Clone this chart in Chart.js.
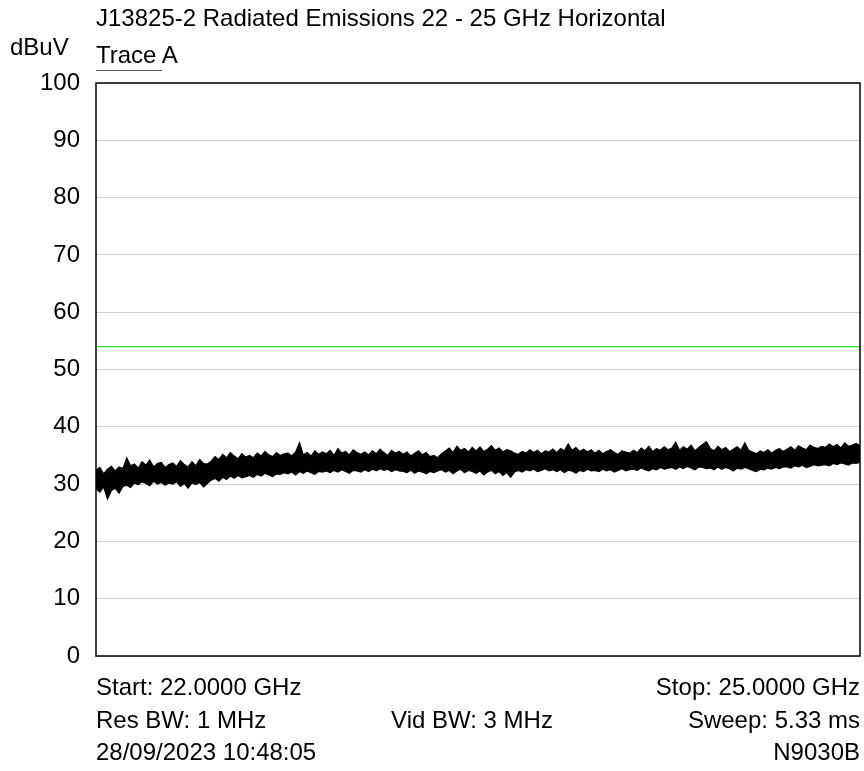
<!DOCTYPE html>
<html>
<head>
<meta charset="utf-8">
<script src="https://cdn.jsdelivr.net/npm/chart.js@4.4.1/dist/chart.umd.min.js"></script>
<style>
  html, body { margin: 0; padding: 0; background: #fff; }
  #wrap { position: relative; width: 864px; height: 771px; }
  canvas { position: absolute; left: 0; top: 0; }
  .t { position: absolute; font-family: "Liberation Sans", Arial, sans-serif; font-size: 24px; color: #000; white-space: nowrap; line-height: 26px; }
  .r { text-align: right; }
  #uline { position: absolute; left: 96px; top: 70px; width: 66px; height: 0; border-top: 1.5px solid #555; }
</style>
</head>
<body>
<div id="wrap">
  <canvas id="c" width="864" height="771"></canvas>
  <div class="t" style="left:96px; top:5px;">J13825-2 Radiated Emissions 22 - 25 GHz Horizontal</div>
  <div class="t" style="left:10px; top:34px;">dBuV</div>
  <div class="t" style="left:96px; top:42px;">Trace A</div>
  <div id="uline"></div>
  <div class="t" style="left:96px; top:674px;">Start: 22.0000 GHz</div>
  <div class="t" style="left:96px; top:707px;">Res BW: 1 MHz</div>
  <div class="t" style="left:96px; top:739px;">28/09/2023 10:48:05</div>
  <div class="t" style="left:372px; top:707px; width:200px; text-align:center;">Vid BW: 3 MHz</div>
  <div class="t r" style="right:4px; top:674px;">Stop: 25.0000 GHz</div>
  <div class="t r" style="right:4px; top:707px;">Sweep: 5.33 ms</div>
  <div class="t r" style="right:4px; top:739px;">N9030B</div>
</div>
<script>
// ---- data ----
const startGHz = 22.0;
const stopGHz = 25.0;
const limitLine = 54;
const yTicks = [0, 10, 20, 30, 40, 50, 60, 70, 80, 90, 100];

// upper envelope of the noise trace (dBuV), left to right
const traceHigh = [
  32.4, 32.9, 31.8, 32.6, 33.1, 32.3, 33.0, 32.7, 34.6, 33.2,
  33.5, 32.8, 33.9, 33.3, 34.2, 33.0, 33.6, 33.8, 32.9, 33.4,
  33.7, 33.1, 34.1, 33.4, 33.0, 33.9, 33.2, 34.3, 33.6, 33.5,
  34.0, 34.8, 34.3, 35.2, 34.6, 35.5, 34.9, 34.4, 35.3, 34.7,
  35.0, 34.6, 35.4, 34.9, 35.7, 35.1, 34.8, 35.5, 35.0, 35.3,
  35.4, 34.9, 35.6, 37.2, 35.1, 35.5, 34.9, 35.8, 35.2, 35.6,
  35.3, 35.9, 35.0, 36.2, 35.4, 35.7, 35.1, 36.0, 35.5, 35.2,
  35.6, 35.1, 35.8, 35.3, 36.1, 35.5, 35.0, 35.9, 35.4, 35.7,
  35.2, 35.6, 34.9, 35.4, 35.8, 35.1, 35.5, 34.8, 35.0, 34.6,
  35.3, 35.8, 36.3, 35.5, 36.6, 35.9, 36.2, 35.6, 36.4, 35.8,
  36.5, 35.7, 36.1, 36.7, 35.9, 36.3, 35.6, 36.0, 35.8, 35.4,
  35.2, 35.7, 35.4, 36.0, 35.5, 35.9, 35.3, 35.8, 35.6, 36.1,
  35.5, 36.2, 35.8, 37.0, 35.9, 36.4, 35.7, 36.1, 35.6, 36.0,
  35.4, 35.9, 35.3, 35.7, 36.0, 35.5, 35.2, 35.8, 35.6, 35.4,
  35.9, 35.5, 36.3, 35.8, 36.6, 35.7, 36.2, 35.9, 36.5, 36.0,
  36.3, 37.3, 35.9, 36.5, 36.1, 36.8, 35.8, 36.4, 36.9, 37.4,
  36.2, 35.8, 36.6, 36.0, 36.4, 35.7, 36.1, 36.5, 35.9, 37.2,
  35.9, 35.6, 35.3, 35.8, 35.5, 36.0, 35.4, 35.9, 36.2, 35.7,
  36.1, 36.5, 35.9, 36.7, 36.3, 36.0, 36.8, 36.4, 36.2, 36.6,
  36.4, 37.0, 36.5, 36.9, 36.3, 37.2, 36.6, 36.8, 37.1, 36.7
];
// lower envelope of the noise trace (dBuV), left to right
const traceLow = [
  29.2, 28.6, 29.5, 27.4, 28.9, 29.3, 28.4, 29.6, 29.8, 29.4,
  30.2, 29.9, 30.4, 30.1, 29.7, 30.5, 30.0, 30.3, 29.8, 30.2,
  30.0, 30.4, 29.6, 30.1, 29.3, 30.2, 29.9, 30.3, 29.5, 30.1,
  30.7, 31.0, 30.5, 31.2, 30.8, 31.4, 31.0, 31.5, 31.1, 31.3,
  31.5, 31.2, 31.7, 31.4, 31.9, 31.6, 31.3, 31.8, 31.7, 32.0,
  31.8, 32.1, 31.6, 32.2, 31.9, 32.3, 32.0, 31.7, 32.2, 32.1,
  32.3, 32.0, 32.4, 32.1, 32.5, 32.2, 31.9, 32.4, 32.3, 32.1,
  32.5, 32.2, 32.6, 32.3, 32.7, 32.4, 32.6, 32.2, 32.5, 32.3,
  32.2, 32.0, 32.4, 31.9, 32.3, 32.1, 31.8, 32.2, 32.0, 32.3,
  32.5, 32.1, 32.4, 31.8, 32.3, 32.6, 32.0, 32.4, 32.2, 31.9,
  32.3, 31.6, 32.1, 32.4, 31.8, 32.2, 31.5, 32.0, 31.2, 32.1,
  32.4, 32.1, 32.5, 32.3, 32.6, 32.2, 32.4, 32.7, 32.3, 32.5,
  32.2, 32.5, 32.0, 32.4, 32.3, 31.9, 32.4, 32.2, 32.6, 32.3,
  32.4, 32.2, 32.6, 32.3, 32.5, 32.1, 32.4, 32.7, 32.3, 32.5,
  32.6, 32.4, 32.8, 32.5, 32.3, 32.7, 32.5, 32.9, 32.6, 32.8,
  32.9, 32.6, 33.0, 32.7, 33.1, 32.8, 32.5, 33.0, 32.9, 32.7,
  32.8, 32.5, 33.0, 32.6, 32.9, 32.7, 32.3, 32.8, 32.6, 32.9,
  32.7, 32.4, 32.2, 32.6, 32.5, 32.8, 32.6, 32.9, 32.7, 33.0,
  33.0, 32.8, 33.2, 33.0, 33.3, 32.9, 33.1, 33.4, 33.2, 33.3,
  33.4, 33.2, 33.6, 33.4, 33.7, 33.5, 33.3, 33.7, 33.6, 33.8
];

// ---- build envelopes across the sweep; filled between them ----
const nS = traceHigh.length;
const freqAt = i => startGHz + (stopGHz - startGHz) * i / (nS - 1);
const highData = traceHigh.map((v, i) => ({ x: freqAt(i), y: v }));
const lowData = traceLow.map((v, i) => ({ x: freqAt(i), y: v }));
const limitData = [{ x: startGHz, y: limitLine }, { x: stopGHz, y: limitLine }];

const borderPlugin = {
  id: 'frame',
  afterDraw(chart) {
    const a = chart.chartArea, ctx = chart.ctx;
    ctx.save();
    ctx.strokeStyle = '#000';
    ctx.lineWidth = 1.5;
    ctx.strokeRect(a.left, a.top, a.right - a.left, a.bottom - a.top);
    ctx.restore();
  }
};

new Chart(document.getElementById('c'), {
  type: 'line',
  data: {
    datasets: [
      { label: 'Limit', data: limitData, borderColor: 'rgb(40,225,40)', borderWidth: 1.3, pointRadius: 0, tension: 0, fill: false },
      { label: 'Trace A', data: highData, borderColor: '#000', backgroundColor: '#000', borderWidth: 1.2, pointRadius: 0, tension: 0, fill: '+1' },
      { label: 'Trace A low', data: lowData, borderColor: '#000', borderWidth: 1.2, pointRadius: 0, tension: 0, fill: false }
    ]
  },
  plugins: [borderPlugin],
  options: {
    responsive: false,
    animation: false,
    events: [],
    layout: { padding: { left: 0, top: 83, right: 4, bottom: 115 } },
    plugins: { legend: { display: false }, tooltip: { enabled: false }, title: { display: false }, filler: { propagate: false } },
    scales: {
      x: {
        type: 'linear', min: startGHz, max: stopGHz,
        display: true,
        grid: { display: false, drawTicks: false },
        border: { display: false },
        ticks: { display: false },
        afterFit(s) { s.height = 0; }
      },
      y: {
        min: 0, max: 100,
        afterBuildTicks(s) { s.ticks = yTicks.map(v => ({ value: v })); },
        grid: { color: '#cfcfcf', lineWidth: 1, drawTicks: false },
        border: { display: false },
        ticks: {
          color: '#000', padding: 16,
          font: { family: '"Liberation Sans", Arial, sans-serif', size: 24 }
        },
        afterFit(s) { s.width = 96; }
      }
    }
  }
});
</script>
</body>
</html>
